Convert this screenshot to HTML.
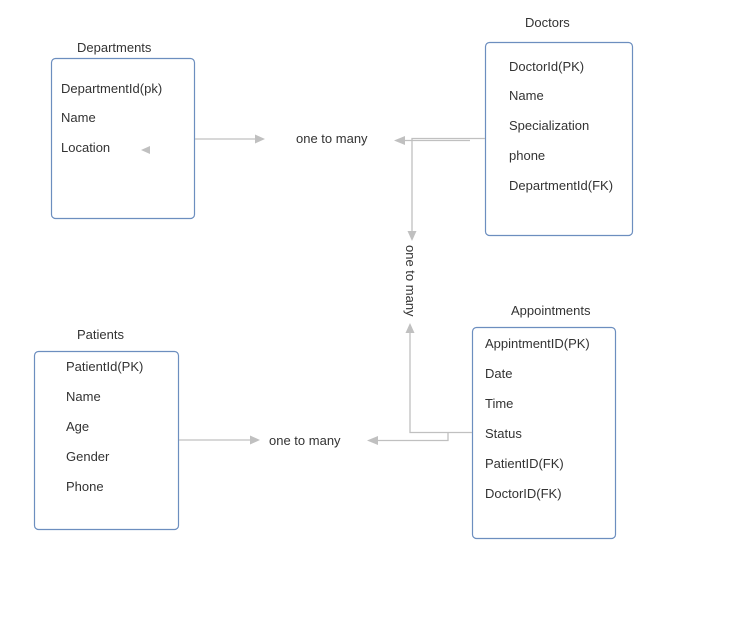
<!DOCTYPE html>
<html><head><meta charset="utf-8"><style>
html,body{margin:0;padding:0;background:#fff;width:742px;height:617px;overflow:hidden}
svg{display:block}
text{font-family:"Liberation Sans",Arial,sans-serif;font-size:13px;fill:#333}
</style></head><body>
<svg width="742" height="617" viewBox="0 0 742 617">
<g fill="none" stroke="#6c8ebf" stroke-width="1.2">
<rect x="51.5" y="58.5" width="143" height="160" rx="4"/>
<rect x="485.5" y="42.5" width="147" height="193" rx="4"/>
<rect x="34.5" y="351.5" width="144" height="178" rx="4"/>
<rect x="472.5" y="327.5" width="143" height="211" rx="4"/>
</g>
<g stroke="#c0c0c0" stroke-width="1.3" fill="none">
<path d="M195 139H256"/>
<path d="M485 138.5H412V233"/>
<path d="M470 140.5H404"/>
<path d="M472 432.5H410V333"/>
<path d="M448 432.5V440.5H378"/>
<path d="M179 440H251"/>
</g>
<g fill="#c0c0c0">
<path d="M265 139l-10-4.5v9z"/>
<path d="M394 140.5l11-4.5v9z"/>
<path d="M412 241l-4.5-10h9z"/>
<path d="M410 323l-4.5 10h9z"/>
<path d="M367 440.5l11-4.5v9z"/>
<path d="M260 440l-10-4.5v9z"/>
<path d="M141 150l9-4v8z"/>
</g>
<text x="77" y="52">Departments</text>
<text x="61" y="93">DepartmentId(pk)</text>
<text x="61" y="122">Name</text>
<text x="61" y="152">Location</text>
<text x="525" y="27">Doctors</text>
<text x="509" y="71">DoctorId(PK)</text>
<text x="509" y="100">Name</text>
<text x="509" y="130">Specialization</text>
<text x="509" y="160">phone</text>
<text x="509" y="190">DepartmentId(FK)</text>
<text x="77" y="339">Patients</text>
<text x="66" y="371">PatientId(PK)</text>
<text x="66" y="401">Name</text>
<text x="66" y="431">Age</text>
<text x="66" y="461">Gender</text>
<text x="66" y="491">Phone</text>
<text x="511" y="315">Appointments</text>
<text x="485" y="348">AppintmentID(PK)</text>
<text x="485" y="378">Date</text>
<text x="485" y="408">Time</text>
<text x="485" y="438">Status</text>
<text x="485" y="468">PatientID(FK)</text>
<text x="485" y="498">DoctorID(FK)</text>
<text x="296" y="143">one to many</text>
<text x="269" y="445">one to many</text>
<text transform="translate(406,245) rotate(90)">one to many</text>
</svg>
</body></html>
